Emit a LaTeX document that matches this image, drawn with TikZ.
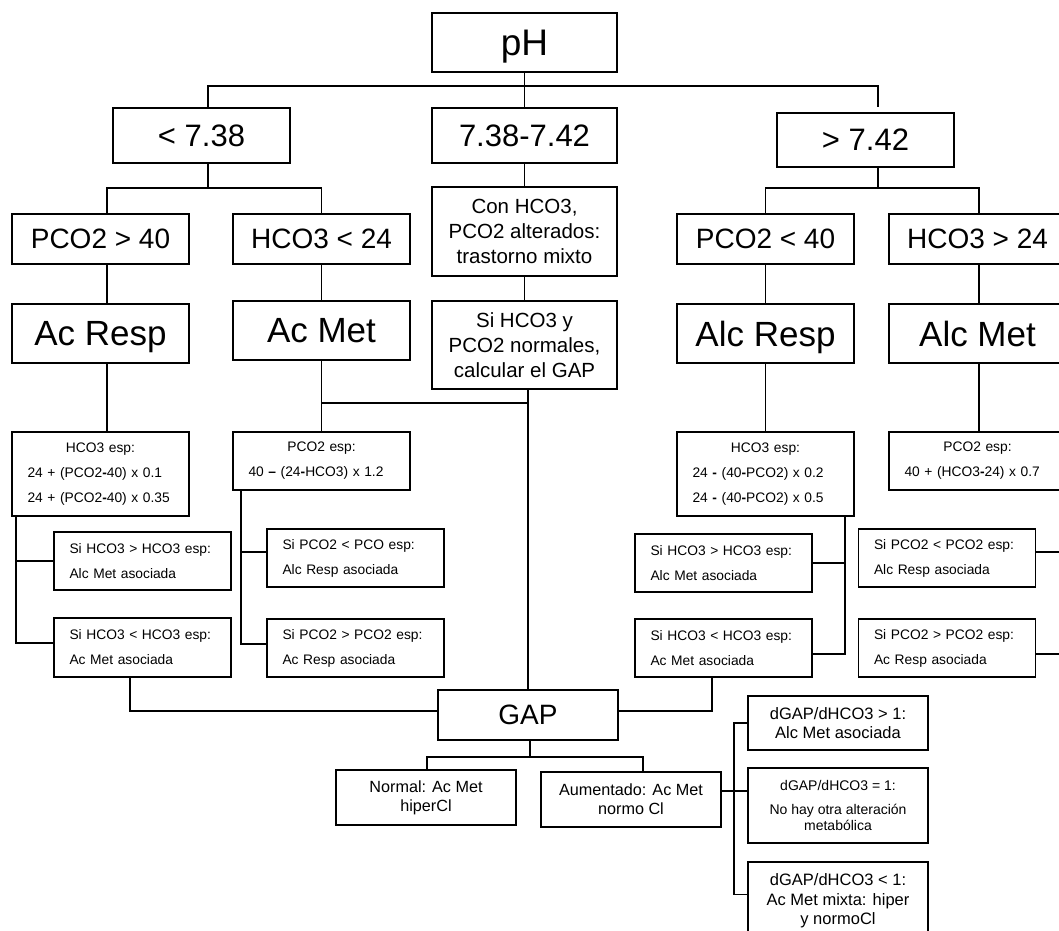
\documentclass[tikz,border=0pt]{standalone}
\usepackage{fontspec}
\setmainfont{Liberation Sans}
\setlength{\parindent}{0pt}
\begin{document}
\begin{tikzpicture}[x=1pt,y=-1pt,
  box/.style={draw=black, line width=1.8pt, inner sep=0pt, minimum width=177pt, text=black},
  conn/.style={line width=1.7pt, draw=black},
  fph/.style={font=\fontsize{37}{44}\selectfont, text depth=0pt},
  fone/.style={font=\fontsize{31}{37}\selectfont, text depth=0pt},
  ftwo/.style={font=\fontsize{28}{34}\selectfont, text depth=0pt},
  fdiag/.style={font=\fontsize{35}{42}\selectfont, text depth=0pt},
  fmid/.style={font=\fontsize{20.5}{25}\selectfont, align=center},
  fsmall/.style={font=\fontsize{13.8}{25}\selectfont, align=left, text width=146pt, inner xsep=15.5pt},
  fgap/.style={font=\fontsize{16.2}{19}\selectfont, align=center},
  fd/.style={font=\fontsize{16.5}{19.5}\selectfont, align=center}
]
\useasboundingbox (0,0) rectangle (1059,930);
\fill[white] (0,0) rectangle (1059,930);
\clip (0,0) rectangle (1059,930);

% top levels
\node[box, fph, minimum width=185pt, minimum height=59pt] (ph) at (524.5,42.5) {pH};
\node[box, fone, minimum height=55pt] (lt) at (201.5,135.5) {< 7.38};
\node[box, fone, minimum width=185pt, minimum height=55pt] (mid) at (524.5,135.5) {7.38-7.42};
\node[box, fone, minimum height=54pt] (gt) at (865.5,140) {> 7.42};

\node[box, ftwo, minimum height=50pt] (pco2g) at (100.5,239) {PCO2 > 40};
\node[box, ftwo, minimum height=50pt] (hco3l) at (321.5,239) {HCO3 < 24};
\node[box, ftwo, minimum height=50pt] (pco2l) at (765.5,239) {PCO2 < 40};
\node[box, ftwo, minimum height=50pt] (hco3g) at (977.5,239) {HCO3 > 24};
\node[box, fmid, minimum width=185pt, minimum height=89pt] (con) at (524.5,231.5) {Con HCO3,\\PCO2 alterados:\\trastorno mixto};

\node[box, fdiag, minimum height=59pt] (acresp) at (100.5,333.5) {Ac Resp};
\node[box, fdiag, minimum height=59pt] (acmet) at (321.5,330.5) {Ac Met};
\node[box, fdiag, minimum height=59pt] (alcresp) at (765.5,333.5) {Alc Resp};
\node[box, fdiag, minimum height=59pt] (alcmet) at (977.5,333.5) {Alc Met};
\node[box, fmid, minimum width=185pt, minimum height=88pt] (sihco3) at (524.5,345) {Si HCO3 y\\PCO2 normales,\\calcular el GAP};

% expected values
\node[box, fsmall, minimum height=84pt] (hesp1) at (100.5,474) {\makebox[146pt][c]{HCO3 esp:}\\24 + (PCO2\textbf{-}40) x 0.1\\24 + (PCO2\textbf{-}40) x 0.35};
\node[box, fsmall, minimum height=58pt] (pesp1) at (321.5,461) {\makebox[146pt][c]{PCO2 esp:}\\40 \textbf{–} (24\textbf{-}HCO3) x 1.2};
\node[box, fsmall, minimum height=84pt] (hesp2) at (765.5,474) {\makebox[146pt][c]{HCO3 esp:}\\24 \textbf{-} (40\textbf{-}PCO2) x 0.2\\24 \textbf{-} (40\textbf{-}PCO2) x 0.5};
\node[box, fsmall, minimum height=58pt] (pesp2) at (977.5,461) {\makebox[146pt][c]{PCO2 esp:}\\40 + (HCO3\textbf{-}24) x 0.7};

% associated disorders
\node[box, fsmall, minimum height=58pt] (a1) at (142.5,561) {Si HCO3 > HCO3 esp:\\Alc Met asociada};
\node[box, fsmall, minimum height=59pt] (a2) at (142.5,647.5) {Si HCO3 < HCO3 esp:\\Ac Met asociada};
\node[box, fsmall, minimum height=58pt] (b1) at (355.5,558) {Si PCO2 < PCO esp:\\Alc Resp asociada};
\node[box, fsmall, minimum height=58pt] (b2) at (355.5,648) {Si PCO2 > PCO2 esp:\\Ac Resp asociada};
\node[box, fsmall, minimum height=58pt] (c1) at (723.5,563) {Si HCO3 > HCO3 esp:\\Alc Met asociada};
\node[box, fsmall, minimum height=58pt] (c2) at (723.5,648) {Si HCO3 < HCO3 esp:\\Ac Met asociada};
\node[box, fsmall, minimum height=58pt] (d1) at (947,558) {Si PCO2 < PCO2 esp:\\Alc Resp asociada};
\node[box, fsmall, minimum height=58pt] (d2) at (947,648) {Si PCO2 > PCO2 esp:\\Ac Resp asociada};

% GAP
\node[box, ftwo, minimum width=180pt, minimum height=50pt] (gap) at (528,715) {GAP};
\node[box, fgap, minimum width=180pt, minimum height=55pt] (normal) at (426,797.5) {Normal: Ac Met\\hiperCl};
\node[box, fgap, minimum width=180pt, minimum height=55pt] (aum) at (631,799.5) {Aumentado: Ac Met\\normo Cl};
\node[box, fd, minimum width=180pt, minimum height=54pt] (e1) at (838,723) {dGAP/dHCO3 > 1:\\Alc Met asociada};
\node[box, font=\fontsize{14}{16}\selectfont, align=center, minimum width=180pt, minimum height=75pt] (e2) at (838,805.5) {dGAP/dHCO3 = 1:\\[8pt]No hay otra alteración\\metabólica};
\node[box, fd, minimum width=180pt, minimum height=78pt] (e3) at (838,901) {dGAP/dHCO3 < 1:\\Ac Met mixta: hiper\\y normoCl};

% connectors
\coordinate (J0) at (524.5,86);
\draw[conn] (ph.south) -- (mid.north);
\draw[conn] ([xshift=6.5pt]lt.north) |- (J0) -| ([xshift=12.5pt,yshift=5pt]gt.north);

\coordinate (J1) at (208,188);
\draw[conn] ([xshift=6.5pt]lt.south) -- (J1);
\draw[conn] ([xshift=6.5pt]pco2g.north) |- (J1) -| (hco3l.north);

\coordinate (J3) at (878,188);
\draw[conn] ([xshift=12.5pt]gt.south) -- (J3);
\draw[conn] (pco2l.north) |- (J3) -| ([xshift=1.5pt]hco3g.north);

\draw[conn] (mid.south) -- (con.north);
\draw[conn] (con.south) -- (sihco3.north);
\draw[conn] (gap.north |- sihco3.south) -- (gap.north);

\draw[conn] ([xshift=6.5pt]pco2g.south) -- ([xshift=6.5pt]acresp.north);
\draw[conn] (hco3l.south) -- (acmet.north);
\draw[conn] (pco2l.south) -- (alcresp.north);
\draw[conn] ([xshift=1.5pt]hco3g.south) -- ([xshift=1.5pt]alcmet.north);
\draw[conn] ([xshift=6.5pt]acresp.south) -- ([xshift=6.5pt]hesp1.north);
\draw[conn] (acmet.south) -- coordinate[pos=0.6] (J2) (pesp1.north);
\draw[conn] (J2) -- (J2 -| gap.north);
\draw[conn] (alcresp.south) -- (hesp2.north);
\draw[conn] ([xshift=1.5pt]alcmet.south) -- ([xshift=1.5pt]pesp2.north);

\coordinate (K1) at ([xshift=5pt]hesp1.south west);
\draw[conn] (K1) |- ([yshift=4.5pt]a2.west);
\draw[conn] (a1.west) -- (a1.west -| K1);
\coordinate (K2) at ([xshift=9pt]pesp1.south west);
\draw[conn] (K2) |- ([yshift=4pt]b2.west);
\coordinate (B1) at ([yshift=6pt]b1.west);
\draw[conn] (B1) -- (B1 -| K2);
\coordinate (K3) at ([xshift=-10pt]hesp2.south east);
\draw[conn] (K3) |- ([yshift=-6pt]c2.east);
\draw[conn] (c1.east) -- (c1.east -| K3);
\draw[conn] ([yshift=6pt]d1.east) -- ++(40,0);
\draw[conn] ([yshift=-6pt]d2.east) -- ++(40,0);

\draw[conn] ([xshift=-12.5pt]a2.south) |- ([yshift=4pt]gap.west);
\draw[conn] ([xshift=-11.5pt]c2.south) |- ([yshift=4pt]gap.east);

\coordinate (J4) at (530,757);
\draw[conn] ([xshift=2pt]gap.south) -- (J4);
\draw[conn] ([xshift=1pt]normal.north) |- (J4) -| ([xshift=12pt]aum.north);

\coordinate (A1) at ([yshift=8.5pt]aum.east);
\draw[conn] (A1) -- (A1 -| e2.west);
\coordinate (K4) at ([xshift=12pt]aum.east);
\coordinate (E3) at ([yshift=6.5pt]e3.west);
\draw[conn] (e1.west) -| (E3 -| K4) -- (E3);
\end{tikzpicture}
\end{document}
